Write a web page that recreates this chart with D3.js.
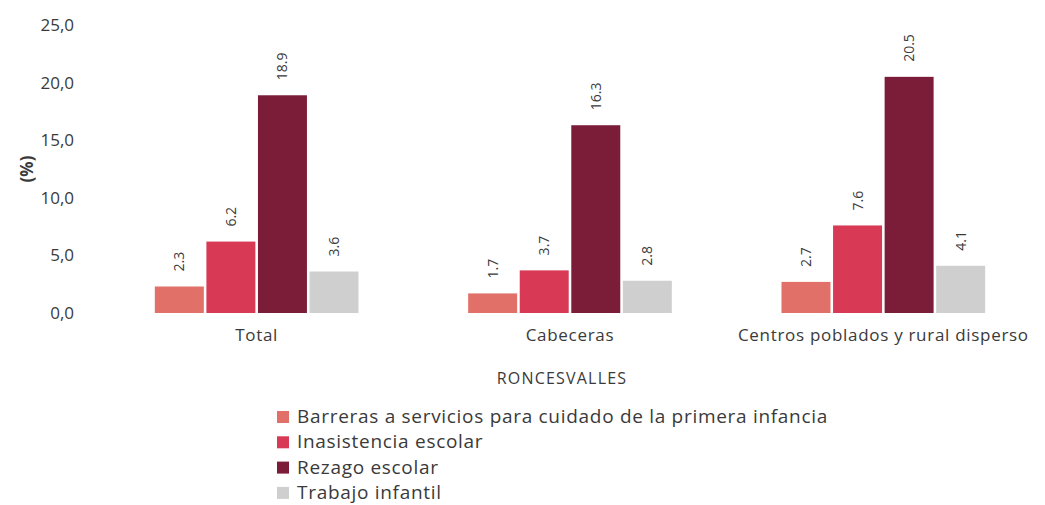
<!DOCTYPE html>
<html>
<head>
<meta charset="utf-8">
<script src="https://cdn.jsdelivr.net/npm/d3@7"></script>
<style>
  body { margin: 0; background: #fff; }
  svg text { font-family: "Open Sans", "Noto Sans", sans-serif; fill: #3a3a3a; }
</style>
</head>
<body>
<div id="chart"></div>
<script>
var width = 1045;
var height = 505;

// data
var categories = ["Total", "Cabeceras", "Centros poblados y rural disperso"];
var seriesNames = [
    "Barreras a servicios para cuidado de la primera infancia",
    "Inasistencia escolar",
    "Rezago escolar",
    "Trabajo infantil"
];
var barreras = [2.3, 1.7, 2.7];
var inasistencia = [6.2, 3.7, 7.6];
var rezago = [18.9, 16.3, 20.5];
var trabajo = [3.6, 2.8, 4.1];
var yTicks = [0, 5, 10, 15, 20, 25];
var colors = ["#e07068", "#d83a55", "#7b1d38", "#cfcfcf"];

var seriesValues = [barreras, inasistencia, rezago, trabajo];

var svg = d3.select("#chart").append("svg")
    .attr("width", width)
    .attr("height", height);

var y = d3.scaleLinear().domain([0, 25]).range([313, 25]);
var x0 = d3.scaleBand().domain(categories).range([100, 1040])
    .paddingInner(0.35).paddingOuter(0.175);
var x1 = d3.scaleBand().domain(d3.range(seriesNames.length))
    .range([0, x0.bandwidth()]).paddingInner(0.05);

// y axis, labels only
var yAxis = d3.axisLeft(y).tickValues(yTicks)
    .tickFormat(d => d3.format(".1f")(d).replace(".", ","))
    .tickSize(0).tickPadding(0);
var gy = svg.append("g").attr("transform", "translate(74,0)").call(yAxis);
gy.select(".domain").remove();
gy.selectAll("text").style("font-size", "17px").attr("fill", "#3a3a3a");

svg.append("text")
    .attr("transform", "translate(33," + y(12.5) + ") rotate(-90)")
    .attr("text-anchor", "middle")
    .style("font-size", "17px").style("font-weight", "bold")
    .text("(%)");

var groups = svg.selectAll("g.grp")
    .data(categories).enter().append("g")
    .attr("class", "grp")
    .attr("transform", d => "translate(" + x0(d) + ",0)");

groups.each(function (cat, ci) {
    var g = d3.select(this);
    seriesValues.forEach(function (vals, si) {
        var v = vals[ci];
        g.append("rect")
            .attr("x", x1(si))
            .attr("y", y(v))
            .attr("width", x1.bandwidth())
            .attr("height", y(0) - y(v))
            .attr("fill", colors[si]);
        var cx = x1(si) + x1.bandwidth() / 2;
        g.append("text")
            .attr("transform", "translate(" + (cx + 5) + "," + (y(v) - 15) + ") rotate(-90)")
            .attr("text-anchor", "start")
            .style("font-size", "14px")
            .text(d3.format(".1f")(v));
    });
});

// x axis labels
var xAxis = d3.axisBottom(x0).tickSize(0).tickPadding(0);
var gx = svg.append("g").attr("transform", "translate(0,329)").call(xAxis);
gx.select(".domain").remove();
gx.selectAll("text").style("font-size", "17px").style("letter-spacing", "0.7px")
    .attr("fill", "#3a3a3a");

svg.append("text")
    .attr("x", 562).attr("y", 384)
    .attr("text-anchor", "middle")
    .style("font-size", "16px").style("letter-spacing", "1.2px")
    .text("RONCESVALLES");

// legend
var legend = svg.selectAll("g.leg")
    .data(seriesNames).enter().append("g")
    .attr("class", "leg")
    .attr("transform", (d, i) => "translate(277," + (411 + i * 25.3) + ")");
legend.append("rect")
    .attr("width", 12).attr("height", 12)
    .attr("fill", (d, i) => colors[i]);
legend.append("text")
    .attr("x", 20).attr("y", 12)
    .style("font-size", "19px").style("letter-spacing", "0.7px")
    .text(d => d);
</script>
</body>
</html>
